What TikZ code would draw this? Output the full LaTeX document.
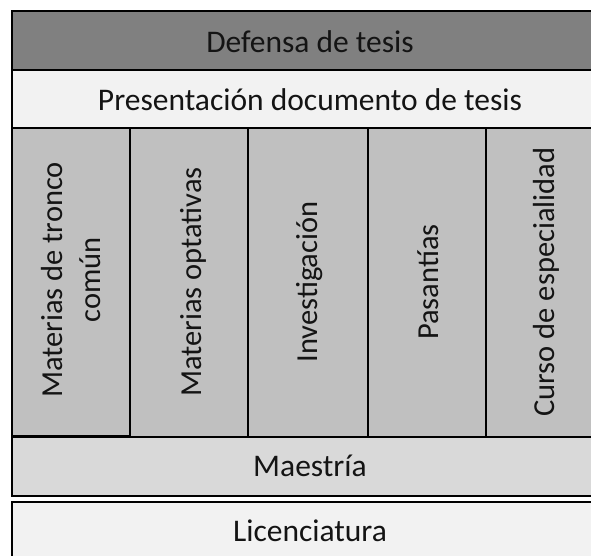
\documentclass[tikz,border=0pt]{standalone}
\usepackage{fontspec}
\setmainfont{Carlito}
\definecolor{dark}{HTML}{808080}
\definecolor{light}{HTML}{F2F2F2}
\definecolor{mid}{HTML}{C0C0C0}
\definecolor{midlight}{HTML}{D9D9D9}
\definecolor{ink}{HTML}{141414}
\begin{document}
\begin{tikzpicture}[x=1pt,y=-1pt,
  box/.style={draw=black,line width=1.4pt},
  lbl/.style={text=ink,font=\fontsize{31.5}{36}\selectfont,inner sep=0pt},
  vlbl/.style={lbl,rotate=90,align=center,font=\fontsize{30.5}{38}\selectfont}]
\useasboundingbox (0,0) rectangle (591,555);
\clip (0,0) rectangle (591,555);
\fill[white] (0,0) rectangle (591,555);
% top rows
\draw[box,fill=dark] (12,11) rectangle (608,70);
\node[lbl] (def) at (310,42) {Defensa de tesis};
\draw[box,fill=light] (12,70) rectangle (608,128);
\node[lbl] (pres) at (310,100) {Presentación documento de tesis};
% columns
\draw[box,fill=mid] (12,128) rectangle (130,436);
\draw[box,fill=mid] (130,128) rectangle (248,438);
\draw[box,fill=mid] (248,128) rectangle (368,438);
\draw[box,fill=mid] (368,128) rectangle (486,438);
\draw[box,fill=mid] (486,128) rectangle (606,438);
\node[vlbl] (c1) at (71,280) {Materias de tronco\\común};
\node[vlbl] (c2) at (193,282) {Materias optativas};
\node[vlbl] (c3) at (310,282) {Investigación};
\node[vlbl] (c4) at (428,282) {Pasantías};
\node[vlbl] (c5) at (546,282) {Curso de especialidad};
% bottom rows
\draw[box,fill=midlight] (12,437) rectangle (608,496);
\node[lbl] (mae) at (310,466) {Maestría};
\draw[box,fill=light] (12,502) rectangle (608,562);
\node[lbl] (lic) at (310,531) {Licenciatura};
\end{tikzpicture}
\end{document}
